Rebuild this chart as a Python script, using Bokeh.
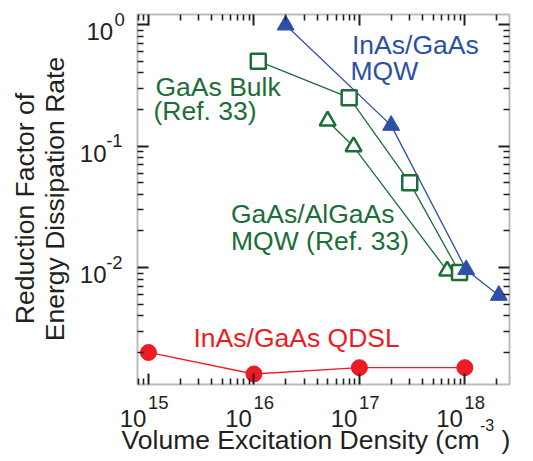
import math
from bokeh.plotting import figure
from bokeh.models import Range1d, LogAxis, FixedTicker, Label, BoxAnnotation
from bokeh.embed import file_html
from bokeh.resources import INLINE

# ---- data ----
qdsl_x = [1.0e15, 1.0e16, 1.0e17, 1.0e18]
qdsl_y = [2.0e-3, 1.33e-3, 1.5e-3, 1.5e-3]

mqw_x = [2.0e16, 2.0e17, 1.03e18, 2.1e18]
mqw_y = [0.99, 0.148, 0.0096, 0.0059]

bulk_x = [1.1e16, 8.0e16, 3.0e17, 8.9e17]
bulk_y = [0.5, 0.25, 0.05, 0.0091]

algaas_x = [5.0e16, 8.8e16, 6.8e17]
algaas_y = [0.161, 0.099, 0.0094]

x_major = [1e15, 1e16, 1e17, 1e18]
x_exp = ["15", "16", "17", "18"]
y_major = [1e-2, 1e-1, 1e0]
y_exp = ["-2", "-1", "0"]

# plot box (data extents) and its place on the page
XMIN, XMAX = 7.87e14, 2.65e18
YMIN, YMAX = 1.09e-3, 1.21
BOX_L, BOX_R, BOX_T, BOX_B = 137, 509, 14, 384
W, H = 530, 458

x_minor = [k * 10.0 ** n for n in range(14, 19) for k in range(2, 10)
           if XMIN <= k * 10.0 ** n <= XMAX]
y_minor = [k * 10.0 ** n for n in range(-4, 1) for k in range(2, 10)
           if YMIN <= k * 10.0 ** n <= YMAX]

RED = "#ec1c24"
BLUE = "#2c50a6"
GREEN = "#1c6d37"
AX = "#231f20"
FONT = "Liberation Sans"
FS = 26.5

# the frame spans the whole canvas; ranges chosen so the box sits at BOX_*
lx0, lx1 = math.log10(XMIN), math.log10(XMAX)
kx = (lx1 - lx0) / (BOX_R - BOX_L)
ly0, ly1 = math.log10(YMIN), math.log10(YMAX)
ky = (ly1 - ly0) / (BOX_B - BOX_T)
x_rng = Range1d(10 ** (lx0 - BOX_L * kx), 10 ** (lx1 + (W - BOX_R) * kx))
y_rng = Range1d(10 ** (ly0 - (H - BOX_B) * ky), 10 ** (ly1 + BOX_T * ky))

p = figure(width=W, height=H, x_axis_type="log", y_axis_type="log",
           x_axis_location=None, y_axis_location=None,
           x_range=x_rng, y_range=y_rng,
           output_backend="svg", toolbar_location=None,
           min_border=0, min_border_left=0, min_border_right=0,
           min_border_top=0, min_border_bottom=0)
p.grid.visible = False
p.outline_line_color = None
p.background_fill_color = "white"
p.border_fill_color = "white"


def make_axis(ticks, minors, loc, bounds):
    ax = LogAxis(ticker=FixedTicker(ticks=ticks, minor_ticks=minors),
                 fixed_location=loc, bounds=bounds)
    ax.axis_line_color = None
    ax.major_tick_in = 11
    ax.major_tick_out = 0
    ax.minor_tick_in = 6
    ax.minor_tick_out = 0
    ax.major_tick_line_color = AX
    ax.minor_tick_line_color = AX
    ax.major_tick_line_width = 2
    ax.minor_tick_line_width = 1.6
    ax.major_label_text_color = None
    ax.major_label_text_font_size = "0px"
    ax.major_label_standoff = 0
    return ax


p.add_layout(make_axis(x_major, x_minor, YMIN, (XMIN, XMAX)), "below")
p.add_layout(make_axis(x_major, x_minor, YMAX, (XMIN, XMAX)), "above")
p.add_layout(make_axis(y_major, y_minor, XMIN, (YMIN, YMAX)), "left")
p.add_layout(make_axis(y_major, y_minor, XMAX, (YMIN, YMAX)), "right")

p.add_layout(BoxAnnotation(left=XMIN, right=XMAX, bottom=YMIN, top=YMAX,
                           fill_alpha=0, line_color=AX, line_width=2))

# ---- series ----
p.line(qdsl_x, qdsl_y, line_color=RED, line_width=1.3)
p.line(algaas_x, algaas_y, line_color=GREEN, line_width=1.3)
p.line(bulk_x, bulk_y, line_color=GREEN, line_width=1.3)
p.line(mqw_x, mqw_y, line_color=BLUE, line_width=1.3)

p.scatter(qdsl_x, qdsl_y, marker="circle", size=16, fill_color=RED, line_color=RED)
p.scatter(algaas_x, algaas_y, marker="triangle", size=16, fill_color="white",
          line_color=GREEN, line_width=2.5)
p.scatter(bulk_x, bulk_y, marker="square", size=15, fill_color="white",
          line_color=GREEN, line_width=2.5)
p.scatter(mqw_x, mqw_y, marker="triangle", size=17, fill_color=BLUE, line_color=BLUE)

SHIFT = 0.35  # baseline correction, in em, for the way the labels are anchored


def lab(text, x, y, fs, color, xu="screen", yu="screen", align="left",
        rotated=False, xo=0, yo=0):
    # screen positions are given as page pixels from the top-left corner,
    # y / x is the wanted baseline
    d = SHIFT * fs
    if rotated:
        x = x - d
    elif yu == "data":
        yo = yo + d
    else:
        y = y - d
    sy = y if yu == "data" else H - y
    p.add_layout(Label(x=x, y=sy, x_units=xu, y_units=yu, text=text,
                       text_font=FONT, text_font_size="%gpx" % fs,
                       text_color=color, text_align=align,
                       text_baseline="alphabetic",
                       angle=(math.pi / 2 if rotated else 0.0),
                       x_offset=xo, y_offset=yo))


# x tick labels
for t, e in zip(x_major, x_exp):
    lab("10", t, 426.7, 24, AX, xu="data", align="right", xo=-2)
    lab(e, t, 408.3, 18.5, AX, xu="data", align="left", xo=-0.5)

# y tick labels
y_ten_x = [106, 106, 112.7]
y_sup_x = [105.7, 105.7, 114]
for t, e, tx, sx in zip(y_major, y_exp, y_ten_x, y_sup_x):
    lab("10", tx, t, 24, AX, yu="data", align="right", yo=-15.5)
    lab(e, sx, t, 18.5, AX, yu="data", align="left", yo=-1)

# axis titles
lab("Volume Excitation Density (cm", 479, 449, FS, AX, align="right")
lab("-3", 479.5, 430, 16, AX, align="left")
lab(")", 501, 449, FS, AX, align="left")
lab("Reduction Factor of", 33.3, 208, FS, AX, align="center", rotated=True)
lab("Energy Dissipation Rate", 63.3, 198.5, FS, AX, align="center", rotated=True)

# annotations
lab("InAs/GaAs", 351.5, 53.3, FS, BLUE)
lab("MQW", 350, 80, FS, BLUE)
lab("GaAs Bulk", 155, 96, FS, GREEN)
lab("(Ref. 33)", 153, 119.3, FS, GREEN)
lab("GaAs/AlGaAs", 230.5, 222.7, FS, GREEN)
lab("MQW (Ref. 33)", 230.5, 249.3, FS, GREEN)
lab("InAs/GaAs QDSL", 193, 346.7, FS, RED)

open("out.html", "w").write(file_html(p, INLINE))
